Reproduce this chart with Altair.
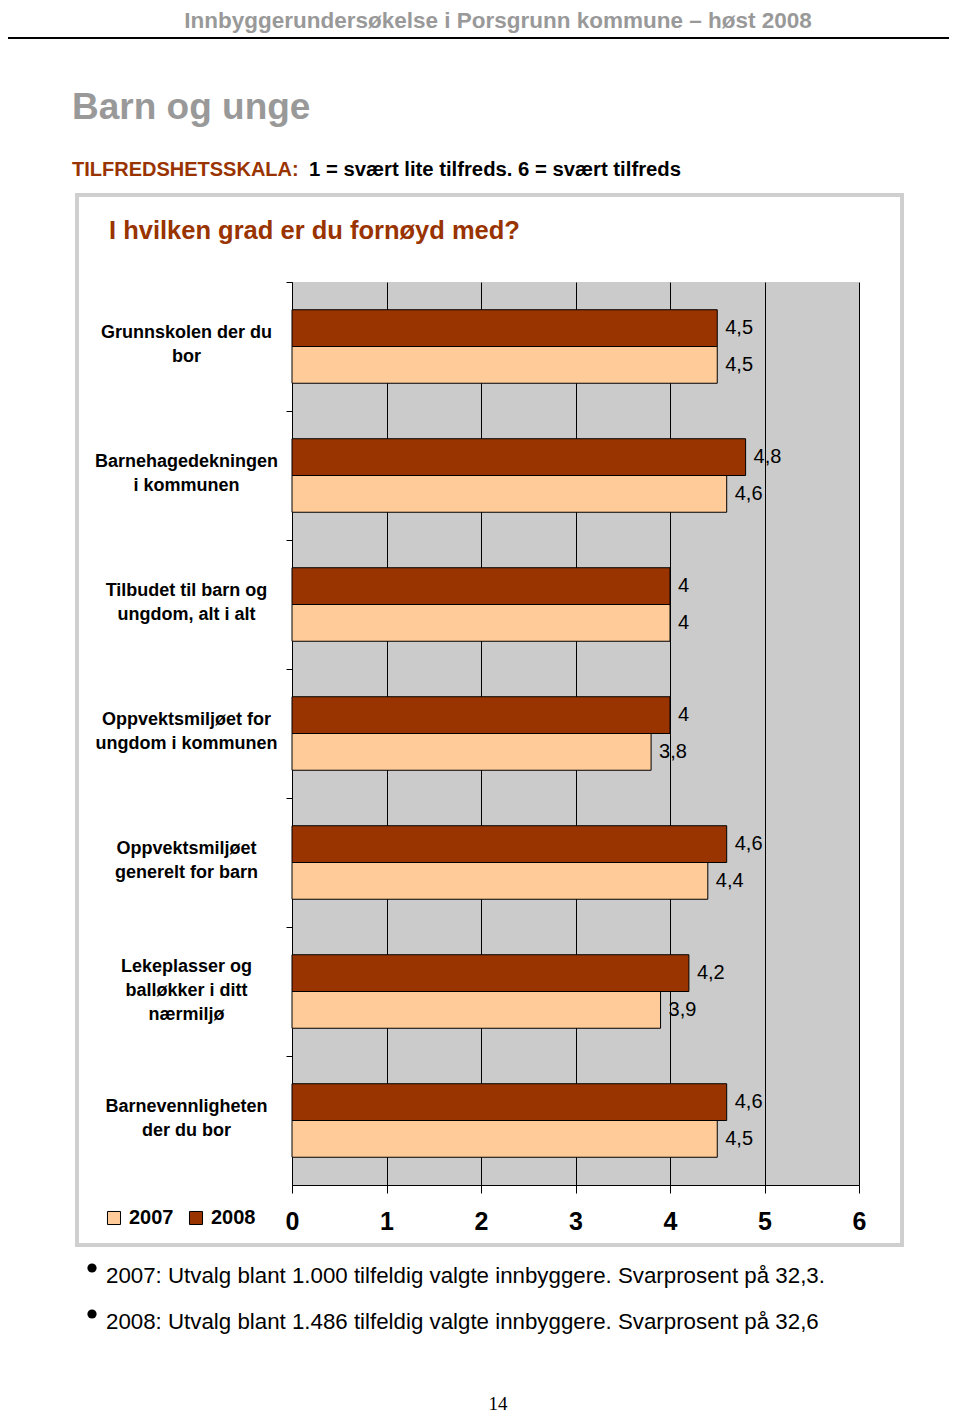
import altair as alt
import pandas as pd

# ---------------- data ----------------
categories = [
    "Grunnskolen der du|bor",
    "Barnehagedekningen|i kommunen",
    "Tilbudet til barn og|ungdom, alt i alt",
    "Oppvektsmiljøet for|ungdom i kommunen",
    "Oppvektsmiljøet|generelt for barn",
    "Lekeplasser og|balløkker i ditt|nærmiljø",
    "Barnevennligheten|der du bor",
]
values_2008 = [4.5, 4.8, 4.0, 4.0, 4.6, 4.2, 4.6]
values_2007 = [4.5, 4.6, 4.0, 3.8, 4.4, 3.9, 4.5]
years = ["2007", "2008"]
year_colors = ["#FFCC99", "#993300"]
x_ticks = [0, 1, 2, 3, 4, 5, 6]

header_text = ["Innbyggerundersøkelse i Porsgrunn kommune – høst 2008"]
section_title = ["Barn og unge"]
scale_label = ["TILFREDSHETSSKALA:"]
scale_text = ["1 = svært lite tilfreds. 6 = svært tilfreds"]
chart_title = ["I hvilken grad er du fornøyd med?"]
bullet_1 = ["2007: Utvalg blant 1.000 tilfeldig valgte innbyggere. Svarprosent på 32,3."]
bullet_2 = ["2008: Utvalg blant 1.486 tilfeldig valgte innbyggere. Svarprosent på 32,6"]
page_number = ["14"]

rows = []
for c, a, b in zip(categories, values_2007, values_2008):
    rows.append({"cat": c, "year": "2007", "value": a})
    rows.append({"cat": c, "year": "2008", "value": b})
df = pd.DataFrame(rows)

FONT = "Liberation Sans"
DARK = "#993300"
GREY_TXT = "#999999"

x_enc = alt.X(
    "value:Q",
    scale=alt.Scale(domain=[0, 6], nice=False, zero=True),
    axis=alt.Axis(
        values=x_ticks, title=None, format="d", grid=True, gridColor="black",
        gridOpacity=1, gridWidth=1, tickSize=8, tickColor="black", domainColor="black",
        labelFontSize=25, labelFontWeight="bold", labelFont=FONT, labelColor="black",
        labelPadding=16, labelFlush=False,
    ),
)
y_enc = alt.Y(
    "cat:N", sort=categories,
    scale=alt.Scale(paddingInner=0, paddingOuter=0),
    axis=alt.Axis(
        title=None, bandPosition=0,
        labelOffset={
            "condition": {"test": "indexof(datum.value, 'Lekeplasser') >= 0", "value": -25},
            "value": -14,
        },
        labelExpr="split(datum.label, '|')", labelAlign="center", labelBaseline="middle",
        labelPadding=100, tickSize=6, labelLimit=0, labelFont=FONT, labelFontSize=18,
        labelFontWeight="bold", labelColor="black", labelLineHeight=24,
        domainColor="black", tickColor="black", grid=False,
    ),
)
yoff_enc = alt.YOffset(
    "year:N", sort=["2008", "2007"],
    scale=alt.Scale(paddingInner=0, paddingOuter=0.755),
)

bars = alt.Chart(df).mark_bar(stroke="black", strokeWidth=1).encode(
    x=x_enc, y=y_enc, yOffset=yoff_enc,
    color=alt.Color(
        "year:N",
        scale=alt.Scale(domain=years, range=year_colors),
        legend=alt.Legend(
            title=None, orient="none", legendX=-188, legendY=926,
            direction="horizontal", symbolType="square", symbolSize=170,
            symbolStrokeColor="black", symbolStrokeWidth=1, symbolOpacity=1,
            labelFontSize=20, labelFontWeight="bold", labelFont=FONT,
            labelColor="black", columnPadding=12, labelOffset=5,
        ),
    ),
)

value_labels = alt.Chart(df).transform_calculate(
    lbl="replace(toString(datum.value), '.', ',')"
).mark_text(
    align="left", baseline="middle", dx=8, fontSize=20, font=FONT, color="black"
).encode(x=x_enc, y=y_enc, yOffset=yoff_enc, text="lbl:N")


def page_text(lines, x, y, size, color="black", weight="normal", align="left", font=FONT):
    return alt.Chart(pd.DataFrame({"t": lines})).mark_text(
        align=align, baseline="middle", fontSize=size, fontWeight=weight,
        color=color, font=font,
    ).encode(x=alt.value(x), y=alt.value(y), text="t:N")


one = pd.DataFrame({"a": [0]})

header = page_text(header_text, 206, -261, 22.5, GREY_TXT, "bold", "center")
header_rule = alt.Chart(one).mark_rule(stroke="black", strokeWidth=2).encode(
    x=alt.value(-288), x2=alt.value(666), y=alt.value(-244)
)
sec = page_text(section_title, -220, -174, 37, GREY_TXT, "bold")
sc1 = page_text(scale_label, -220, -112, 20, DARK, "bold")
sc2 = page_text(scale_text, 17, -112, 20.3, "black", "bold")
box = alt.Chart(one).mark_rect(fillOpacity=0, stroke="#CFCFCF", strokeWidth=4).encode(
    x=alt.value(-215), x2=alt.value(610), y=alt.value(-87), y2=alt.value(963)
)
ttl = page_text(chart_title, -183, -51, 25.5, DARK, "bold")
dot1 = alt.Chart(one).mark_circle(color="black", opacity=1, size=85).encode(
    x=alt.value(-200), y=alt.value(986)
)
dot2 = alt.Chart(one).mark_circle(color="black", opacity=1, size=85).encode(
    x=alt.value(-200), y=alt.value(1032)
)
b1 = page_text(bullet_1, -186, 994, 22.3)
b2 = page_text(bullet_2, -186, 1040, 22.3)
pg = page_text(page_number, 206, 1122, 19, "black", "normal", "center", "Liberation Serif")

chart = alt.layer(
    bars, value_labels, header, header_rule, sec, sc1, sc2, box, ttl,
    dot1, dot2, b1, b2, pg,
).properties(
    width=567, height=903,
    autosize=alt.AutoSizeParams(type="none"),
    padding={"left": 284, "top": 274, "right": 90, "bottom": 230},
).configure_view(fill="#CBCBCB", strokeWidth=0)

chart.save("out.html", embed_options={"renderer": "svg", "actions": False})
